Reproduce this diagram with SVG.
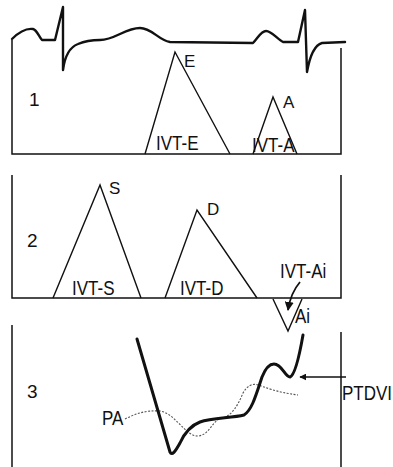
<svg xmlns="http://www.w3.org/2000/svg" width="393" height="467" viewBox="0 0 393 467">
<style>
.frame{fill:none;stroke:#111;stroke-width:1.5}
.tri{fill:none;stroke:#111;stroke-width:1.4;stroke-linejoin:miter}
.ecg{fill:none;stroke:#111;stroke-width:2.4;stroke-linejoin:round;stroke-linecap:round}
.thick{fill:none;stroke:#111;stroke-width:3;stroke-linejoin:round;stroke-linecap:round}
.dot{fill:none;stroke:#555;stroke-width:1.1;stroke-dasharray:2 1.5}
.lab{font-family:"Liberation Sans",Arial,sans-serif;font-size:17px;fill:#111}
.num{font-family:"Liberation Sans",Arial,sans-serif;font-size:19px;fill:#111}
</style>
<defs>
<marker id="ah" viewBox="0 0 10 10" refX="9" refY="5" markerWidth="5" markerHeight="5" orient="auto">
<path d="M0,0 L10,5 L0,10 z" fill="#111"/>
</marker>
</defs>
<g id="ecg">
<path class="ecg" d="M12,39 C18,33 26,28 33,29 C37,30 39,37 42,40 L55,40 L63,7 L63,70 C65,55 70,47 78,44 C85,41 92,40 100,40 C115,40 125,28 140,28 C152,28 158,40 170,42 L253,43 C258,38 261,31 266,31 C272,31 278,40 283,42 L298,42 L305,10 L307,72 C310,55 315,45 322,43 L345,42"/>
</g>
<g id="panel1">
<path class="frame" d="M12,40 L12,154 L341,154 L341,48"/>
<text class="num" x="29" y="106">1</text>
<path class="tri" d="M145,154 L175,52 L230,154"/>
<text class="lab" x="184" y="67">E</text>
<text class="lab" transform="translate(156,150) scale(1,1.2)">IVT-E</text>
<path class="tri" d="M253,154 L273,97 L297,154"/>
<text class="lab" x="283" y="108">A</text>
<text class="lab" transform="translate(252,152) scale(1,1.2)">IVT-A</text>
</g>
<g id="panel2">
<path class="frame" d="M12,175 L12,298 L341,298 L341,175"/>
<text class="num" x="27" y="247">2</text>
<path class="tri" d="M53,298 L100,185 L141,298"/>
<text class="lab" x="109" y="194">S</text>
<text class="lab" transform="translate(72,295) scale(1,1.2)">IVT-S</text>
<path class="tri" d="M165,298 L197,210 L257,298"/>
<text class="lab" x="207" y="215">D</text>
<text class="lab" transform="translate(180,295) scale(1,1.2)">IVT-D</text>
<path class="tri" d="M273,299 L288,331 L302,299"/>
<text class="lab" transform="translate(280,278) scale(1,1.2)">IVT-Ai</text>
<text class="lab" transform="translate(295,323) scale(1,1.2)">Ai</text>
</g>
<g id="panel3">
<path class="frame" d="M12,325 L12,467"/>
<path class="frame" d="M341,332 L341,467"/>
<text class="num" x="27" y="398">3</text>
<path class="dot" d="M125,419 C135,414 145,410 160,411 C175,413 186,437 198,436 C210,435 212,420 222,418 C232,416 238,405 243,393 C247,386 252,383 258,385 C265,387 275,392 298,395"/>
<path class="thick" d="M137,339 L170,452 C172,456 175,452 180,443 C185,432 192,425 200,422 C212,418 232,418 244,415 C252,410 256,395 262,377 C266,367 270,364 274,364 C282,364 285,377 290,377 C295,375 299,358 303,335"/>
<text class="lab" transform="translate(102,425) scale(1,1.2)">PA</text>
<text class="lab" transform="translate(342,400) scale(1,1.2)">PTDVI</text>
</g>
<g id="connectors">
<path d="M300,282 C294,289 290,297 288,310" fill="none" stroke="#111" stroke-width="1.8" marker-end="url(#ah)"/>
<path d="M346,377 L300,377" fill="none" stroke="#111" stroke-width="1.4" marker-end="url(#ah)"/>
</g>
</svg>
